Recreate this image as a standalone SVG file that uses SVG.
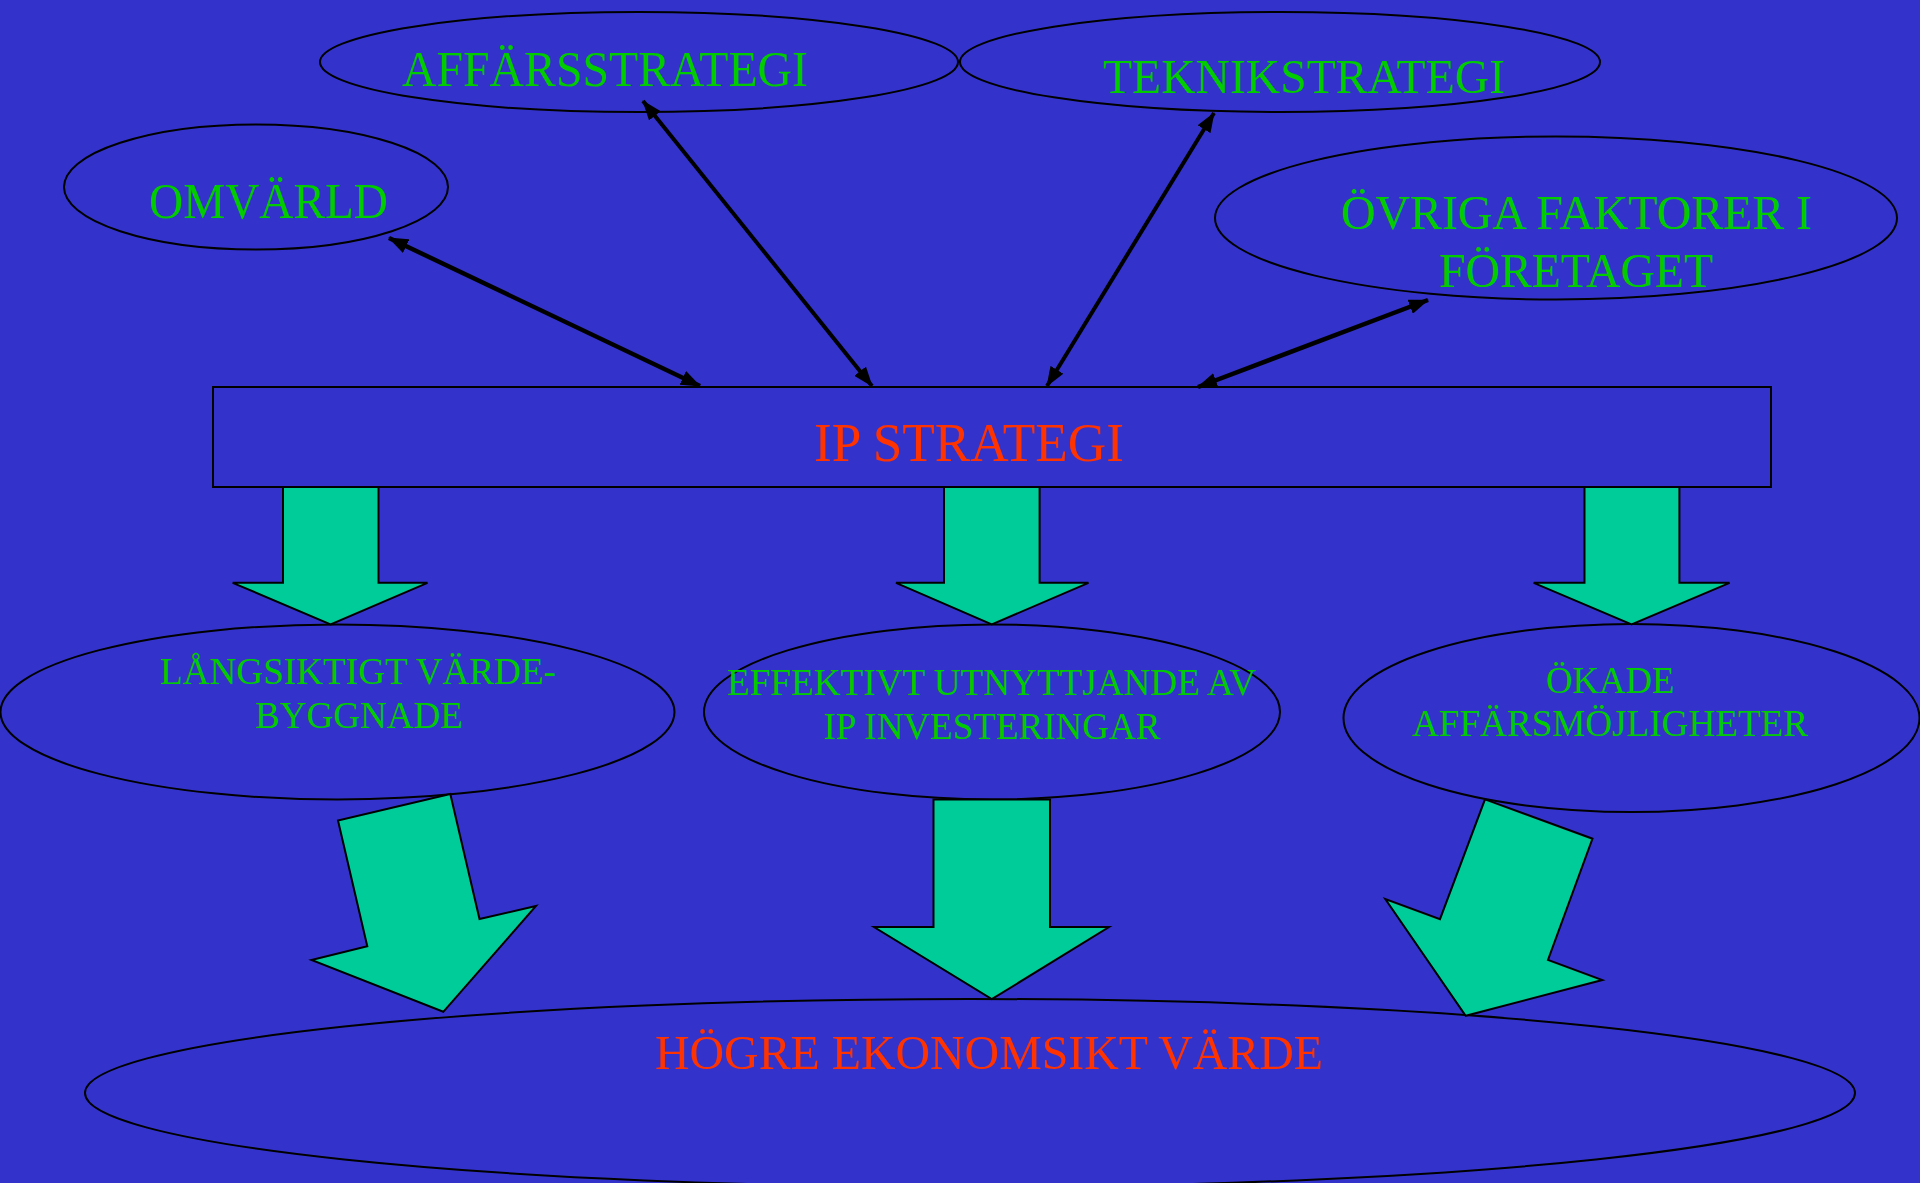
<svg xmlns="http://www.w3.org/2000/svg" width="1920" height="1183" viewBox="0 0 1920 1183">
<style>
.node{fill:none;stroke:#000;stroke-width:2}
.g{fill:#00CC00;font-family:"Liberation Serif","Times New Roman",serif}
.r{fill:#FF3300;font-family:"Liberation Serif","Times New Roman",serif}
.blk{fill:#00CC99;stroke:#000;stroke-width:2;stroke-linejoin:miter}
.con{stroke:#000;fill:none;marker-start:url(#ah);marker-end:url(#ah)}
</style>
<defs>
<marker id="ah" markerUnits="userSpaceOnUse" markerWidth="20" markerHeight="15" refX="19" refY="7.5" orient="auto-start-reverse" viewBox="0 0 20 15">
<path d="M0,0 L20,7.5 L0,15 z" fill="#000"/>
</marker>
</defs>
<rect x="0" y="0" width="1920" height="1183" fill="#3333CC"/>
<g id="affarsstrategi">
<ellipse class="node" cx="639" cy="62" rx="319" ry="50"/>
<text class="g" x="402" y="86" font-size="50" textLength="406" lengthAdjust="spacingAndGlyphs">AFFÄRSSTRATEGI</text>
</g>
<g id="omvarld">
<ellipse class="node" cx="256" cy="187" rx="192" ry="62.5"/>
<text class="g" x="149" y="218" font-size="50" textLength="239" lengthAdjust="spacingAndGlyphs">OMVÄRLD</text>
</g>
<g id="teknikstrategi">
<ellipse class="node" cx="1280" cy="62" rx="320" ry="50"/>
<text class="g" x="1103" y="93" font-size="49" textLength="402" lengthAdjust="spacingAndGlyphs">TEKNIKSTRATEGI</text>
</g>
<g id="ovriga">
<ellipse class="node" cx="1556" cy="218" rx="341" ry="81.5"/>
<text class="g" x="1341" y="229" font-size="48" textLength="471" lengthAdjust="spacingAndGlyphs">ÖVRIGA FAKTORER I</text>
<text class="g" x="1439" y="287" font-size="48" textLength="274" lengthAdjust="spacingAndGlyphs">FÖRETAGET</text>
</g>
<g id="ipstrategi">
<rect class="node" x="213" y="387" width="1558" height="100"/>
<text class="r" x="814" y="461" font-size="54" textLength="310" lengthAdjust="spacingAndGlyphs">IP STRATEGI</text>
</g>
<g id="langsiktigt">
<ellipse class="node" cx="337.5" cy="712" rx="337" ry="87.5"/>
<text class="g" x="160" y="684" font-size="38.5" textLength="396" lengthAdjust="spacingAndGlyphs">LÅNGSIKTIGT VÄRDE-</text>
<text class="g" x="255" y="728" font-size="38.5" textLength="208" lengthAdjust="spacingAndGlyphs">BYGGNADE</text>
</g>
<g id="effektivt">
<ellipse class="node" cx="992" cy="712" rx="288" ry="87.5"/>
<text class="g" x="727" y="695" font-size="38.5" textLength="529" lengthAdjust="spacingAndGlyphs">EFFEKTIVT UTNYTTJANDE AV</text>
<text class="g" x="823.5" y="739" font-size="38.5" textLength="337" lengthAdjust="spacingAndGlyphs">IP INVESTERINGAR</text>
</g>
<g id="okade">
<ellipse class="node" cx="1631.5" cy="718" rx="288" ry="94"/>
<text class="g" x="1546" y="693" font-size="38.5" textLength="128.5" lengthAdjust="spacingAndGlyphs">ÖKADE</text>
<text class="g" x="1412" y="736" font-size="38.5" textLength="396" lengthAdjust="spacingAndGlyphs">AFFÄRSMÖJLIGHETER</text>
</g>
<g id="hogre">
<ellipse class="node" cx="970" cy="1093" rx="885" ry="94"/>
<text class="r" x="655" y="1069" font-size="49.5" textLength="668" lengthAdjust="spacingAndGlyphs">HÖGRE EKONOMSIKT VÄRDE</text>
</g>
<g id="connectors">
<line class="con" stroke-width="4.5" x1="389" y1="238" x2="700" y2="386"/>
<line class="con" stroke-width="4" x1="643" y1="101" x2="872" y2="386"/>
<line class="con" stroke-width="4" x1="1214" y1="113" x2="1047" y2="386"/>
<line class="con" stroke-width="4.5" x1="1428" y1="300" x2="1198" y2="387"/>
<polygon class="blk" points="283,487 378.5,487 378.5,582.8 427.5,582.8 330.6,624.4 232.7,582.8 283,582.8"/>
<polygon class="blk" points="944,487 1039.6,487 1039.6,582.8 1088.5,582.8 991.8,624.4 896,582.8 944,582.8"/>
<polygon class="blk" points="1584.5,487 1679.4,487 1679.4,582.8 1729.6,582.8 1631.6,624.4 1533.7,582.8 1584.5,582.8"/>
<polygon class="blk" points="450.3,794 338,820.5 367.3,946.3 311.5,960 443.3,1011.8 536,906 479.5,919"/>
<polygon class="blk" points="933.5,799.6 1050,799.6 1050,927 1109,927 991.8,999.2 874,927 933.5,927"/>
<polygon class="blk" points="1485,799.4 1592.5,838.7 1548,960 1602.3,980 1465.7,1015.8 1385.3,899 1440,919.2"/>
</g>
</svg>
